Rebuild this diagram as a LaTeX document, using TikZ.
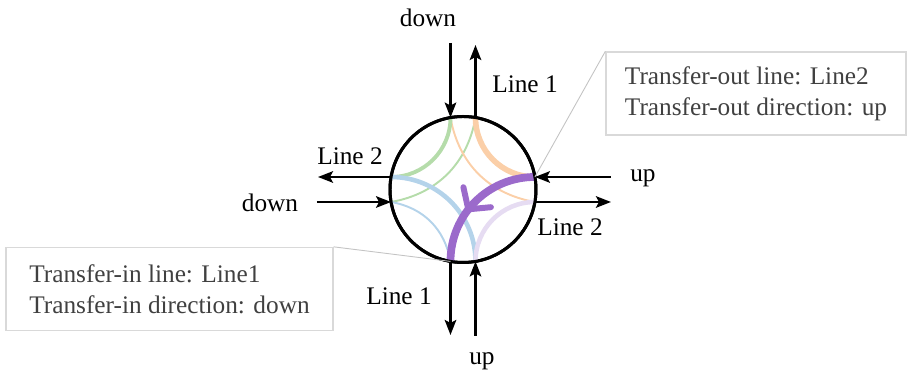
\documentclass[tikz,border=0pt]{standalone}
\usepackage{fontspec}
\setmainfont{Liberation Serif}
\usetikzlibrary{calc}
\usetikzlibrary{positioning}
\usetikzlibrary{arrows.meta}
\usetikzlibrary{decorations.markings}
\definecolor{arcGreen}{HTML}{B5DCAA}
\definecolor{arcOrange}{HTML}{FBCFA8}
\definecolor{arcBlue}{HTML}{B4D3EA}
\definecolor{arcPurple}{HTML}{9B6ACB}
\definecolor{arcLavender}{HTML}{E6DCF2}
\definecolor{boxGray}{HTML}{D9D9D9}
\definecolor{textGray}{HTML}{404040}
\tikzstyle{stnnode} = [draw, circle, line width=1.7pt, minimum size=2.92cm, inner sep=0pt]
\tikzstyle{track} = [line width=1.4pt, -{Stealth[length=3mm, width=2.3mm, inset=0.6mm]}]
\tikzstyle{lbl} = [font=\fontsize{14.4}{17.5}\selectfont, inner sep=0pt]
\tikzstyle{infobox} = [draw=boxGray, line width=0.75pt, align=left, text=textGray, font=\fontsize{14.4}{17.6}\selectfont, minimum height=1.66cm]
\tikzstyle{callout} = [draw=boxGray!90!black, line width=0.5pt]
\tikzstyle{thinArc} = [line width=1.1pt]
\tikzstyle{thickArc} = [line width=2.6pt]

\begin{document}
\begin{tikzpicture}
    \useasboundingbox (-9.26,-3.67) rectangle (8.94,3.79);
    \node[stnnode] (station) at (0,0) {};
    \coordinate (top_in) at ($(station)+(-0.25,1.4384)$);
    \coordinate (top_out) at ($(station)+(0.25,1.4384)$);
    \coordinate (bottom_out) at ($(station)+(-0.25,-1.4384)$);
    \coordinate (bottom_in) at ($(station)+(0.25,-1.4384)$);
    \coordinate (left_out) at ($(station)+(-1.4384,0.25)$);
    \coordinate (left_in) at ($(station)+(-1.4384,-0.25)$);
    \coordinate (right_in) at ($(station)+(1.4384,0.25)$);
    \coordinate (right_out) at ($(station)+(1.4384,-0.25)$);
    \draw[thinArc, arcGreen] (top_out) to[out=-100, in=10] (left_in);
    \draw[thinArc, arcOrange] (top_in) to[out=-80, in=170] (right_out);
    \draw[thinArc, arcBlue] (left_in) to[out=-10, in=100] (bottom_out);
    \draw[thickArc, line width=2.2pt, arcGreen] (top_in) to[out=-90, in=0] (left_out);
    \draw[thickArc, line width=3.2pt, arcOrange] (top_out) to[out=-90, in=180] (right_in);
    \draw[thickArc, arcBlue] (left_out) to[out=0, in=90] (bottom_in);
    \draw[thickArc, arcLavender] (right_out) to[out=180, in=90] (bottom_in);
    \draw[line width=4.4pt, arcPurple, postaction={decorate},
        decoration={markings, mark=at position 0.6 with {\arrow{Straight Barb[length=3mm, width=6.8mm, line width=3.4pt, round]}}}]
        (right_in) to[out=180, in=90] (bottom_out);
    \node[stnnode] at (station) {};
    \coordinate (top_tail) at ($(station)+(-0.25,2.93)$);
    \coordinate (top_head) at ($(station)+(0.25,2.89)$);
    \coordinate (bottom_head) at ($(station)+(-0.25,-2.91)$);
    \coordinate (bottom_tail) at ($(station)+(0.25,-2.93)$);
    \coordinate (left_head) at ($(station)+(-2.9,0.25)$);
    \coordinate (left_tail) at ($(station)+(-2.92,-0.25)$);
    \coordinate (right_tail) at ($(station)+(2.96,0.25)$);
    \coordinate (right_head) at ($(station)+(2.96,-0.25)$);
    \draw[track] (top_tail) -- (top_in);
    \draw[track] (top_out) -- (top_head);
    \draw[track] (bottom_out) -- (bottom_head);
    \draw[track] (bottom_tail) -- (bottom_in);
    \draw[track] (left_out) -- (left_head);
    \draw[track] (left_tail) -- (left_in);
    \draw[track] (right_tail) -- (right_in);
    \draw[track] (right_out) -- (right_head);
    \node[lbl] (top_dir) at ($(station)+(-0.7,3.43)$) {down};
    \node[lbl] (top_line) at ($(station)+(1.24,2.11)$) {Line 1};
    \node[lbl] (left_line) at ($(station)+(-2.26,0.67)$) {Line 2};
    \node[lbl] (left_dir) at ($(station)+(-3.86,-0.27)$) {down};
    \node[lbl] (right_dir) at ($(station)+(3.6,0.22)$) {up};
    \node[lbl] (right_line) at ($(station)+(2.14,-0.75)$) {Line 2};
    \node[lbl] (bottom_line) at ($(station)+(-1.28,-2.13)$) {Line 1};
    \node[lbl] (bottom_dir) at ($(station)+(0.38,-3.43)$) {up};
    \node[infobox, minimum width=6cm] (out_box) at ($(station)+(5.86,1.92)$)
{Transfer-out line: Line2\\Transfer-out direction: up};
    \node[infobox, minimum width=6.54cm] (in_box) at ($(station)+(-5.87,-1.99)$)
{Transfer-in line: Line1\\Transfer-in direction: down};
    \draw[callout] (out_box.north west) -- (right_in);
    \draw[callout] (in_box.north east) -- (bottom_out);
\end{tikzpicture}
\end{document}
